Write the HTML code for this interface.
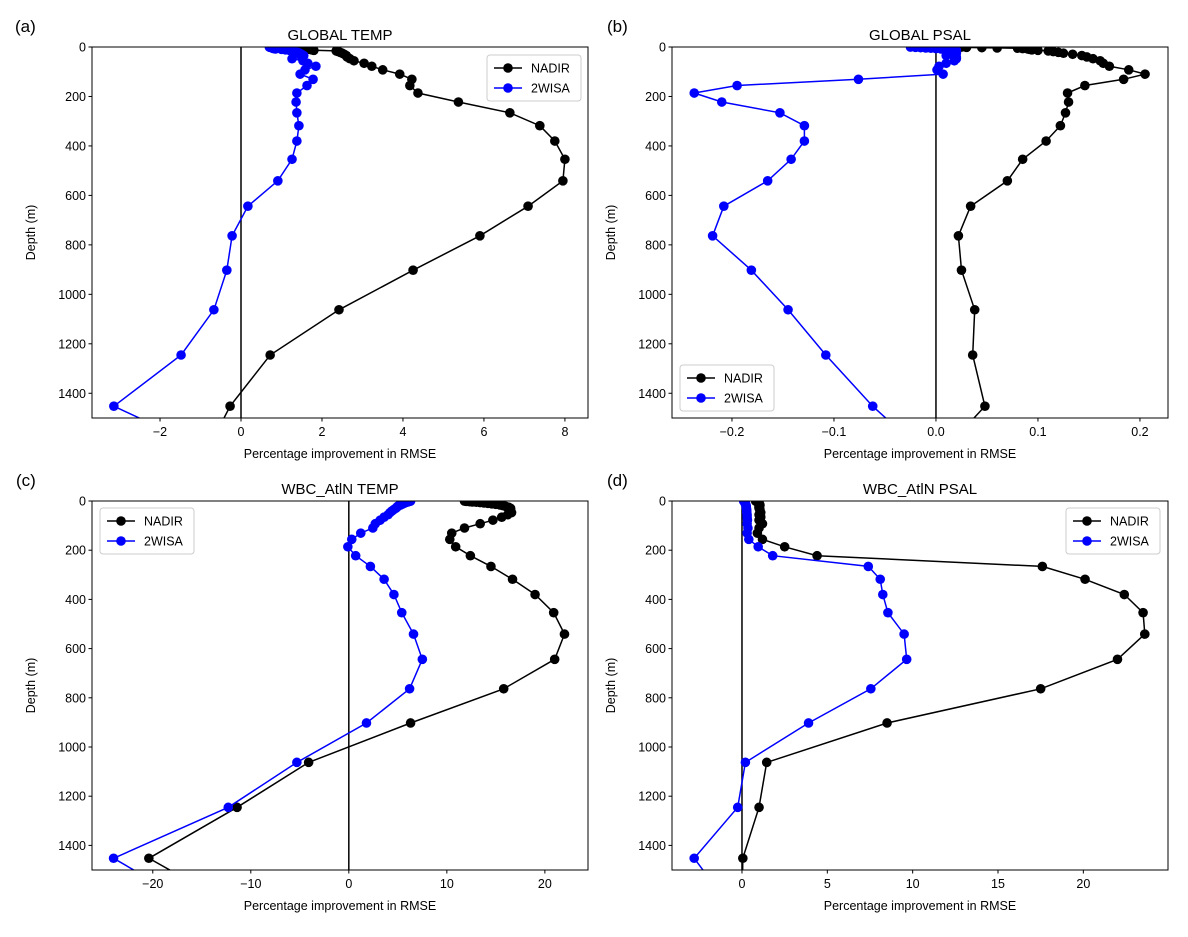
<!DOCTYPE html>
<html><head><meta charset="utf-8"><style>
body{margin:0;background:#fff;font-family:"Liberation Sans","DejaVu Sans",sans-serif}
svg text{font-family:"Liberation Sans","DejaVu Sans",sans-serif}
</style></head><body>
<svg id="fig" width="1188" height="932" xmlns="http://www.w3.org/2000/svg"></svg>
<script>
const depths=[0.49,1.54,2.65,3.82,5.08,6.44,7.93,9.57,11.4,13.47,15.81,18.5,21.6,25.21,29.44,34.43,40.34,47.37,55.76,65.81,77.85,92.33,109.73,130.67,155.85,186.13,222.48,266.04,318.13,380.21,453.94,541.09,643.57,763.33,902.34,1062.44,1245.29,1452.25,1684.28];
const depthTicks=[0,200,400,600,800,1000,1200,1400];
const gtNadir=[1.5,1.4,1.45,1.5,1.55,1.6,1.65,1.7,1.75,1.8,2.35,2.4,2.45,2.5,2.55,2.6,2.62,2.69,2.79,3.04,3.23,3.5,3.92,4.22,4.17,4.37,5.37,6.64,7.38,7.75,8.0,7.95,7.09,5.9,4.25,2.42,0.72,-0.27,-1.0];
const gt2wisa=[0.7,0.72,0.75,0.8,0.78,0.8,0.85,1.0,1.1,1.2,1.25,1.3,1.4,1.45,1.5,1.55,1.5,1.26,1.53,1.65,1.85,1.58,1.46,1.78,1.63,1.38,1.36,1.38,1.43,1.38,1.26,0.91,0.17,-0.22,-0.35,-0.67,-1.48,-3.14,-0.1];
const gsNadir=[0.025,0.03,0.045,0.06,0.08,0.085,0.09,0.092,0.094,0.1,0.11,0.115,0.12,0.125,0.134,0.143,0.148,0.154,0.161,0.164,0.17,0.189,0.205,0.184,0.146,0.129,0.13,0.127,0.122,0.108,0.085,0.07,0.034,0.022,0.025,0.038,0.036,0.048,-0.004];
const gs2wisa=[-0.025,-0.02,-0.015,-0.01,-0.005,0.0,0.005,0.01,0.015,0.02,0.018,0.015,0.02,0.02,0.015,0.01,0.02,0.02,0.018,0.01,0.003,0.001,0.007,-0.076,-0.195,-0.237,-0.21,-0.153,-0.129,-0.129,-0.142,-0.165,-0.208,-0.219,-0.181,-0.145,-0.108,-0.062,0.0];
const wtNadir=[11.8,12.0,12.3,12.6,13.0,13.4,13.8,14.2,14.6,15.0,15.4,15.7,16.0,16.3,16.5,16.5,16.5,16.6,16.2,15.6,14.7,13.4,11.8,10.5,10.3,10.9,12.4,14.5,16.7,19.0,20.9,22.0,21.0,15.8,6.3,-4.1,-11.4,-20.4,-10];
const wt2wisa=[6.3,6.2,6.1,6.0,5.9,5.8,5.7,5.6,5.5,5.4,5.3,5.1,5.0,4.9,4.8,4.6,4.4,4.2,4.0,3.6,3.2,2.7,2.45,1.22,0.3,-0.1,0.7,2.2,3.6,4.6,5.4,6.6,7.5,6.2,1.8,-5.3,-12.3,-24.0,-14];
const wsNadir=[0.8,0.85,0.9,0.9,0.95,0.95,1.0,1.0,1.0,1.0,1.05,1.05,1.0,1.0,1.0,1.05,1.05,1.1,1.0,1.1,1.0,1.2,1.0,0.9,1.2,2.5,4.4,17.6,20.1,22.4,23.5,23.6,22.0,17.5,8.5,1.45,1.0,0.05,0.0];
const ws2wisa=[0.1,0.12,0.14,0.15,0.16,0.17,0.18,0.2,0.2,0.22,0.22,0.24,0.25,0.25,0.26,0.27,0.28,0.28,0.3,0.3,0.32,0.3,0.35,0.3,0.4,0.95,1.8,7.4,8.1,8.25,8.55,9.5,9.65,7.55,3.9,0.2,-0.25,-2.8,-0.3];

const panels=[
 {id:'a',title:'GLOBAL TEMP',l:92,r:588,t:47,b:418,xmin:-3.68,xmax:8.57,ticks:[-2,0,2,4,6,8],lab:['−2','0','2','4','6','8'],n:gtNadir,w:gt2wisa,leg:[487,55],plx:15},
 {id:'b',title:'GLOBAL PSAL',l:672,r:1168,t:47,b:418,xmin:-0.2588,xmax:0.2275,ticks:[-0.2,-0.1,0,0.1,0.2],lab:['−0.2','−0.1','0.0','0.1','0.2'],n:gsNadir,w:gs2wisa,leg:[680,365],plx:607},
 {id:'c',title:'WBC_AtlN TEMP',l:92,r:588,t:501,b:870,xmin:-26.2,xmax:24.4,ticks:[-20,-10,0,10,20],lab:['−20','−10','0','10','20'],n:wtNadir,w:wt2wisa,leg:[100,508],plx:16},
 {id:'d',title:'WBC_AtlN PSAL',l:672,r:1168,t:501,b:870,xmin:-4.1,xmax:24.96,ticks:[0,5,10,15,20],lab:['0','5','10','15','20'],n:wsNadir,w:ws2wisa,leg:[1066,508],plx:607}
];
const NS='http://www.w3.org/2000/svg';
const svg=document.getElementById('fig');
function mk(tag,attrs,parent){const e=document.createElementNS(NS,tag);for(const k in attrs)e.setAttribute(k,attrs[k]);(parent||svg).appendChild(e);return e;}
const defs=mk('defs',{});
panels.forEach(p=>{
 const g=mk('g',{});
 
 
 const X=v=>p.l+(v-p.xmin)/(p.xmax-p.xmin)*(p.r-p.l);
 const Y=d=>p.t+d/1500*(p.b-p.t);
 const cp=mk('clipPath',{id:'clip'+p.id},defs);
 mk('rect',{x:p.l,y:p.t,width:p.r-p.l,height:p.b-p.t},cp);
 const z=mk('line',{x1:X(0),x2:X(0),y1:p.t,y2:p.b,stroke:'#000','stroke-width':1.5},g);
 
 
 const plot=mk('g',{'clip-path':'url(#clip'+p.id+')'},g);
 [[p.n,'#000','nadir'],[p.w,'#0000ff','2wisa']].forEach(([vals,col,nm])=>{
  const sg=mk('g',{},plot);
  
  
  const pts=vals.map((v,i)=>X(v).toFixed(1)+','+Y(depths[i]).toFixed(1)).join(' ');
  mk('polyline',{points:pts,fill:'none',stroke:col,'stroke-width':1.5},sg);
  vals.forEach((v,i)=>{const c=mk('circle',{cx:X(v),cy:Y(depths[i]),r:4.8,fill:col},sg);
   
   });
 });
 mk('rect',{x:p.l,y:p.t,width:p.r-p.l,height:p.b-p.t,fill:'none',stroke:'#000','stroke-width':1},g);
 depthTicks.forEach(d=>{const y=Y(d);mk('line',{x1:p.l-3.5,x2:p.l,y1:y,y2:y,stroke:'#000'},g);
  const t=mk('text',{x:p.l-6,y:y+4.5,'text-anchor':'end','font-size':'12.5'},g);t.textContent=d;});
 p.ticks.forEach((v,i)=>{const x=X(v);mk('line',{x1:x,x2:x,y1:p.b,y2:p.b+3.5,stroke:'#000'},g);
  const t=mk('text',{x:x,y:p.b+18,'text-anchor':'middle','font-size':'12.5'},g);t.textContent=p.lab[i];});
 const xt=mk('text',{x:(p.l+p.r)/2,y:p.b+40,'text-anchor':'middle','font-size':'12.5'},g);
 xt.textContent='Percentage improvement in RMSE';
 
 
 const yt=mk('text',{x:0,y:0,'text-anchor':'middle','font-size':'12.5',transform:`translate(${p.l-57},${(p.t+p.b)/2}) rotate(-90)`},g);
 yt.textContent='Depth (m)';
 
 
 const tt=mk('text',{x:(p.l+p.r)/2,y:p.t-7,'text-anchor':'middle','font-size':'15'},g);
 tt.textContent=p.title;
 
 
 const pl=mk('text',{x:p.plx,y:p.t-15,'font-size':'17'},g);
 pl.textContent='('+p.id+')';
 
 
 const lg=mk('g',{},g);
 
 
 const [lx,ly]=p.leg;
 mk('rect',{x:lx,y:ly,width:94,height:46,rx:3,fill:'#fff',stroke:'#ccc'},lg);
 [['NADIR','#000'],['2WISA','#0000ff']].forEach(([nm,col],k)=>{
  const yy=ly+13+k*20;
  mk('line',{x1:lx+7,x2:lx+35,y1:yy,y2:yy,stroke:col,'stroke-width':1.5},lg);
  mk('circle',{cx:lx+21,cy:yy,r:4.8,fill:col},lg);
  const t=mk('text',{x:lx+44,y:yy+4.5,'font-size':'12.5'},lg);t.textContent=nm;
 });
});
</script>
</body></html>
